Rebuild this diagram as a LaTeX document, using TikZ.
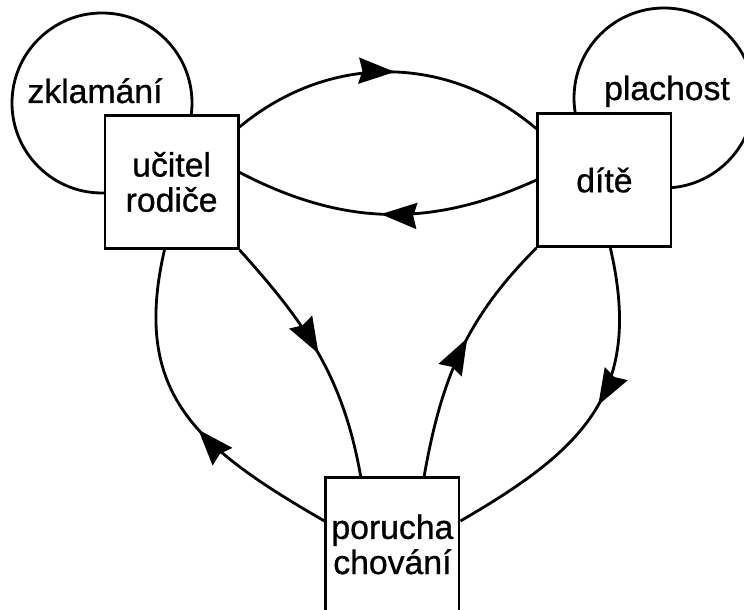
\documentclass[tikz,border=0pt]{standalone}
\usepackage{fontspec}
\setmainfont{Liberation Sans}[FakeBold=0.8]
\usetikzlibrary{arrows.meta,decorations.markings}
\tikzset{
  box/.style={draw,fill=white,minimum size=3.33cm,inner sep=0pt,align=center,font=\fontsize{24}{25}\selectfont},
  ring/.style={draw,circle,minimum size=2*\R cm,inner sep=0pt},
  lbl/.style={anchor=base,inner sep=0pt,font=\fontsize{24}{25}\selectfont},
  arr/.style={postaction={decorate},decoration={markings,mark=at position #1 with {\arrow{Stealth[length=9mm,width=6.5mm,inset=0.9mm]}}}}
}
\begin{document}
\begin{tikzpicture}[line width=2pt]
\pgfmathsetmacro{\R}{2.25}
\useasboundingbox (0,0) rectangle (18.6,15.25);
%loops
\node[ring](zk) at (2.55,12.675){};
\node[ring](pl) at (16.6,12.8){};
\node[lbl](zkt) at (2.375,12.675){zklamání};
\node[lbl](plt) at (16.675,12.75){plachost};
%boxes
\node[box](uc) at (4.29,10.7){učitel\\rodiče};
\node[box](dt) at (15.11,10.75){dítě};
\node[box](pc) at (9.81,1.64){porucha\\chování};
%arrows
\draw[arr=0.52](uc.39) to[bend left=40] (dt.143);
\draw[arr=0.52](dt.west) to[bend left=26] (uc.8);
\draw[arr=0.45](pc.161) to[out=150,in=257,looseness=1.2] (uc.264);
\draw[arr=0.5](uc.south east) to[out=-48,in=100] (pc.115);
\draw[arr=0.56](pc.65) to[out=80,in=-135] (dt.south west);
\draw[arr=0.47](dt.275) to[out=-77,in=30,looseness=1.2] (pc.19);
\end{tikzpicture}
\end{document}
